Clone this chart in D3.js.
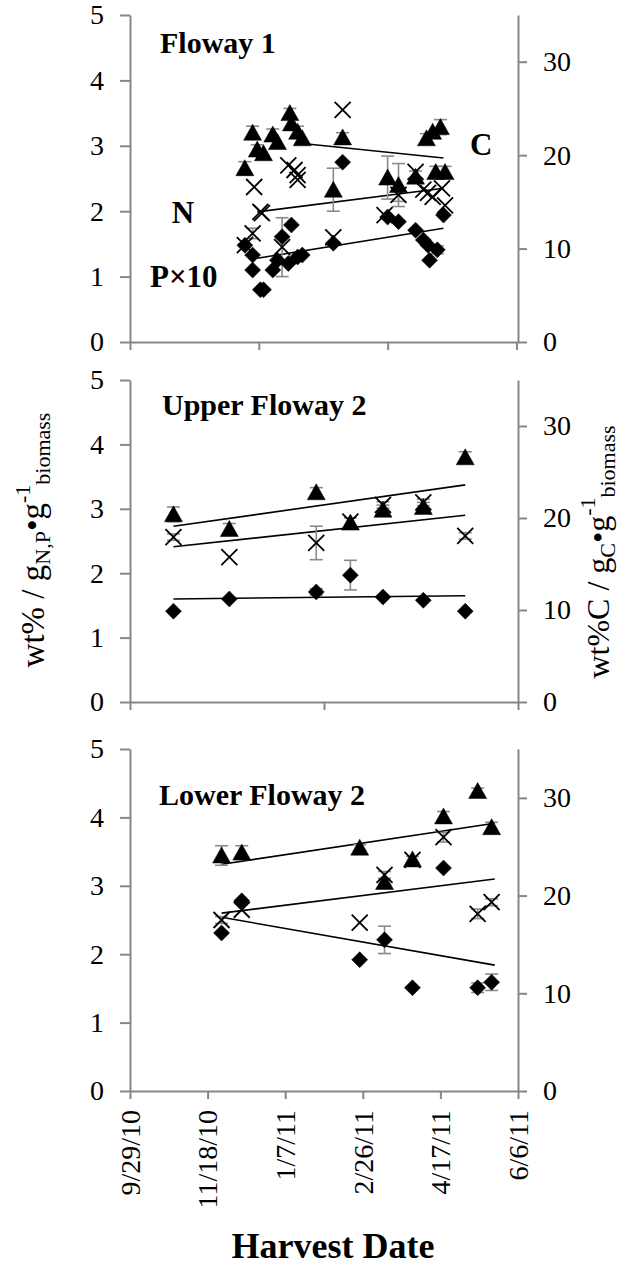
<!DOCTYPE html>
<html>
<head>
<meta charset="utf-8">
<script src="https://cdn.jsdelivr.net/npm/d3@7"></script>
<style>
  body { margin: 0; background: #fff; }
  svg text { font-family: "Liberation Serif", "Times New Roman", serif; fill: #000; }
</style>
</head>
<body>
<div id="chart"></div>
<script>
// three stacked panels, N and P x10 on left axis, C on right axis
const svgWidth = 625;
const svgHeight = 1266;
const xLeft = 130, xRight = 518;
const parse = d3.timeParse("%Y-%m-%d");

// tick values / labels
const dateTicks = ["2010-09-29", "2010-11-18", "2011-01-07", "2011-02-26", "2011-04-17", "2011-06-06"];
const f1Ticks = ["2010-09-29", "2010-12-21", "2011-03-14", "2011-06-05"];
const f2Ticks = ["2010-09-29", "2011-02-01", "2011-06-06"];
const leftTicks = [0, 1, 2, 3, 4, 5];
const rightTicks = [0, 10, 20, 30];

// ---- Floway 1 ----
const f1CDates = ["2010-12-12", "2010-12-17", "2010-12-20", "2010-12-24", "2010-12-30", "2011-01-02", "2011-01-10", "2011-01-11",
  "2011-01-15", "2011-01-18", "2011-02-07", "2011-02-13", "2011-03-14", "2011-03-21", "2011-04-01", "2011-04-08",
  "2011-04-12", "2011-04-17", "2011-04-14", "2011-04-20"];
const f1C = [18.6, 22.4, 20.6, 20.2, 22.2, 21.4, 24.5, 23.4, 22.5, 21.8, 16.3, 21.9, 17.6, 16.8, 17.7, 21.8, 22.5, 23.0, 18.2, 18.2];
const f1CErr = [0.7, 0.7, 0.5, 0, 0.6, 0, 0.5, 0, 0.6, 0, 2.3, 0.5, 2.3, 2.3, 0.6, 0.5, 0, 0.8, 0.6, 0.6];

const f1NDates = ["2010-12-12", "2010-12-17", "2010-12-18", "2010-12-22", "2010-12-23", "2011-01-05", "2011-01-09", "2011-01-13",
  "2011-01-15", "2011-01-15", "2011-02-07", "2011-02-13", "2011-03-12", "2011-03-21", "2011-04-01", "2011-04-06",
  "2011-04-09", "2011-04-12", "2011-04-18", "2011-04-20"];
const f1N = [1.48, 1.66, 2.37, 1.99, 1.97, 1.45, 2.70, 2.63, 2.55, 2.48, 1.60, 3.55, 1.94, 2.25, 2.60, 2.33, 2.28, 2.22, 2.35, 2.09];
const f1NErr = [0, 0.08, 0, 0, 0, 0.45, 0, 0, 0, 0, 0, 0, 0, 0.1, 0, 0, 0, 0, 0, 0];

const f1PDates = ["2010-12-12", "2010-12-17", "2010-12-17", "2010-12-22", "2010-12-24", "2010-12-30", "2011-01-02", "2011-01-05",
  "2011-01-11", "2011-01-09", "2011-01-15", "2011-01-18", "2011-02-07", "2011-02-13", "2011-03-14", "2011-03-21",
  "2011-04-01", "2011-04-06", "2011-04-09", "2011-04-15", "2011-04-10", "2011-04-19"];
const f1P = [1.48, 1.33, 1.10, 0.80, 0.80, 1.10, 1.25, 1.61, 1.79, 1.20, 1.30, 1.33, 1.51, 2.75, 1.91, 1.84, 1.71, 1.56, 1.48, 1.41, 1.25, 1.94];
const f1PErr = [0, 0, 0, 0, 0, 0, 0, 0, 0, 0, 0, 0, 0, 0, 0, 0, 0, 0, 0, 0.06, 0, 0];

const f1CTrendDates = ["2011-01-15", "2011-04-19"];
const f1CTrend = [21.3, 19.7];
const f1NTrendDates = ["2010-12-20", "2011-04-19"];
const f1NTrend = [1.99, 2.35];
const f1PTrendDates = ["2010-12-20", "2011-04-19"];
const f1PTrend = [1.28, 1.74];

// ---- Upper Floway 2 ----
const f2Dates = ["2010-10-27", "2010-12-02", "2011-01-27", "2011-02-18", "2011-03-11", "2011-04-06", "2011-05-03"];
const f2C = [20.4, 18.8, 22.8, 19.5, 20.9, 21.2, 26.6];
const f2CErr = [0.8, 0.6, 0.5, 0.5, 0.5, 0.5, 0.6];
const f2N = [2.56, 2.25, 2.47, 2.80, 3.06, 3.10, 2.58];
const f2NErr = [0.05, 0, 0.26, 0, 0.05, 0.05, 0.05];
const f2P = [1.41, 1.60, 1.71, 1.97, 1.63, 1.58, 1.41];
const f2PErr = [0, 0, 0.05, 0.23, 0, 0, 0];
const f2TrendDates = ["2010-10-27", "2011-05-03"];
const f2CTrend = [19.1, 23.6];
const f2NTrend = [2.41, 2.90];
const f2PTrend = [1.60, 1.65];

// ---- Lower Floway 2 ----
const f3Dates = ["2010-11-27", "2010-12-10", "2011-02-24", "2011-03-12", "2011-03-30", "2011-04-19", "2011-05-11", "2011-05-20"];
const f3C = [24.1, 24.4, 24.9, 21.4, 23.7, 28.1, 30.7, 27.0];
const f3CErr = [1.0, 0.7, 0.3, 0.3, 0.3, 0.5, 0.3, 0.5];
const f3N = [2.50, 2.65, 2.46, 3.16, 3.38, 3.71, 2.59, 2.76];
const f3NErr = [0.05, 0, 0, 0.05, 0, 0.07, 0.07, 0.05];
const f3P = [2.31, 2.78, 1.92, 2.21, 1.51, 3.26, 1.51, 1.59];
const f3PErr = [0, 0, 0, 0.2, 0, 0, 0.07, 0.12];
const f3TrendDates = ["2010-11-27", "2011-05-22"];
const f3CTrend = [23.2, 27.4];
const f3NTrend = [2.60, 3.10];
const f3PTrend = [2.54, 1.84];

const panels = [
  { title: "Floway 1", top: 15, bottom: 342, titleX: 160, titleY: 53, ticks: f1Ticks, labels: false,
    series: [
      { shape: "tri", axis: "R", dates: f1CDates, vals: f1C, err: f1CErr, tDates: f1CTrendDates, trend: f1CTrend },
      { shape: "dia", axis: "L", dates: f1PDates, vals: f1P, err: f1PErr, tDates: f1PTrendDates, trend: f1PTrend },
      { shape: "x", axis: "L", dates: f1NDates, vals: f1N, err: f1NErr, tDates: f1NTrendDates, trend: f1NTrend }
    ] },
  { title: "Upper Floway 2", top: 380, bottom: 702, titleX: 162, titleY: 415, ticks: f2Ticks, labels: false,
    series: [
      { shape: "tri", axis: "R", dates: f2Dates, vals: f2C, err: f2CErr, tDates: f2TrendDates, trend: f2CTrend },
      { shape: "dia", axis: "L", dates: f2Dates, vals: f2P, err: f2PErr, tDates: f2TrendDates, trend: f2PTrend },
      { shape: "x", axis: "L", dates: f2Dates, vals: f2N, err: f2NErr, tDates: f2TrendDates, trend: f2NTrend }
    ] },
  { title: "Lower Floway 2", top: 749, bottom: 1091, titleX: 159, titleY: 805, ticks: dateTicks, labels: true,
    series: [
      { shape: "tri", axis: "R", dates: f3Dates, vals: f3C, err: f3CErr, tDates: f3TrendDates, trend: f3CTrend },
      { shape: "dia", axis: "L", dates: f3Dates, vals: f3P, err: f3PErr, tDates: f3TrendDates, trend: f3PTrend },
      { shape: "x", axis: "L", dates: f3Dates, vals: f3N, err: f3NErr, tDates: f3TrendDates, trend: f3NTrend }
    ] }
];

const shapes = {
  tri: "M0,-8.5L9,7.5L-9,7.5Z",
  dia: "M0,-8L8,0L0,8L-8,0Z",
  x: "M-8,-8L8,8M-8,8L8,-8"
};
const axisColor = "#878787";

const svg = d3.select("#chart").append("svg")
  .attr("width", svgWidth)
  .attr("height", svgHeight);

const x = d3.scaleTime()
  .domain([parse("2010-09-29"), parse("2011-06-06")])
  .range([xLeft, xRight]);

function styleAxis(g) {
  g.selectAll("path, line").attr("stroke", axisColor).attr("stroke-width", 2);
  g.selectAll("text").attr("font-size", 28).attr("font-family", "Liberation Serif");
}

panels.forEach(function (p) {
  const yL = d3.scaleLinear().domain([0, 5]).range([p.bottom, p.top]);
  const yR = d3.scaleLinear().domain([0, 35]).range([p.bottom, p.top]);

  // axes
  const gx = svg.append("g")
    .attr("transform", `translate(0,${p.bottom})`)
    .call(d3.axisBottom(x).tickValues(p.ticks.map(parse)).tickSize(8).tickSizeOuter(0)
      .tickFormat(p.labels ? d3.timeFormat("%-m/%-d/%y") : ""));
  styleAxis(gx);
  if (p.labels) {
    gx.selectAll("text")
      .attr("transform", "rotate(-90)")
      .attr("text-anchor", "end")
      .attr("x", -19)
      .attr("y", 0)
      .attr("dy", "0.33em");
  }

  const gl = svg.append("g")
    .attr("transform", `translate(${xLeft},0)`)
    .call(d3.axisLeft(yL).tickValues(leftTicks).tickFormat(d3.format("d"))
      .tickSize(10).tickSizeOuter(0).tickPadding(16));
  styleAxis(gl);

  const gr = svg.append("g")
    .attr("transform", `translate(${xRight},0)`)
    .call(d3.axisRight(yR).tickValues(rightTicks).tickFormat(d3.format("d"))
      .tickSize(9).tickSizeOuter(0).tickPadding(16));
  styleAxis(gr);

  // trend lines
  p.series.forEach(function (s) {
    const y = s.axis === "R" ? yR : yL;
    svg.append("line")
      .attr("x1", x(parse(s.tDates[0])))
      .attr("y1", y(s.trend[0]))
      .attr("x2", x(parse(s.tDates[1])))
      .attr("y2", y(s.trend[1]))
      .attr("stroke", "#000")
      .attr("stroke-width", 1.6);
  });

  // error bars (under the markers)
  p.series.forEach(function (s) {
    const y = s.axis === "R" ? yR : yL;
    const pts = s.dates.map((d, i) => ({ d: parse(d), v: s.vals[i], e: s.err[i] })).filter(d => d.e > 0);
    const eb = svg.append("g").selectAll("g")
      .data(pts)
      .enter()
      .append("g")
      .attr("stroke", "#8a8a8a")
      .attr("stroke-width", 1.6);
    eb.append("line")
      .attr("x1", d => x(d.d)).attr("x2", d => x(d.d))
      .attr("y1", d => y(d.v - d.e)).attr("y2", d => y(d.v + d.e));
    eb.append("line")
      .attr("x1", d => x(d.d) - 6.5).attr("x2", d => x(d.d) + 6.5)
      .attr("y1", d => y(d.v + d.e)).attr("y2", d => y(d.v + d.e));
    eb.append("line")
      .attr("x1", d => x(d.d) - 6.5).attr("x2", d => x(d.d) + 6.5)
      .attr("y1", d => y(d.v - d.e)).attr("y2", d => y(d.v - d.e));
  });

  // markers
  p.series.forEach(function (s) {
    const y = s.axis === "R" ? yR : yL;
    const pts = s.dates.map((d, i) => ({ d: parse(d), v: s.vals[i] }));
    svg.append("g").selectAll("path")
      .data(pts)
      .enter()
      .append("path")
      .attr("d", shapes[s.shape])
      .attr("transform", d => `translate(${x(d.d)},${y(d.v)})`)
      .attr("fill", s.shape === "x" ? "none" : "#000")
      .attr("stroke", "#000")
      .attr("stroke-width", s.shape === "x" ? 1.8 : 0.5);
  });

  svg.append("text")
    .text(p.title)
    .attr("x", p.titleX)
    .attr("y", p.titleY)
    .attr("font-size", 30)
    .attr("font-weight", "bold");
});

// series labels in first panel
svg.append("text").text("N").attr("x", 183).attr("y", 223)
  .attr("text-anchor", "middle").attr("font-size", 31).attr("font-weight", "bold");
svg.append("text").text("P×10").attr("x", 150).attr("y", 287)
  .attr("font-size", 31).attr("font-weight", "bold");
svg.append("text").text("C").attr("x", 470).attr("y", 155)
  .attr("font-size", 31).attr("font-weight", "bold");

// axis titles
const leftLabel = svg.append("text")
  .attr("transform", "translate(44,540) rotate(-90)")
  .attr("text-anchor", "middle")
  .attr("font-size", 33);
leftLabel.append("tspan").text("wt% / g");
leftLabel.append("tspan").text("N,P").attr("font-size", 22).attr("dy", 6);
leftLabel.append("tspan").text("•g").attr("dy", -6);
leftLabel.append("tspan").text("-1").attr("font-size", 22).attr("dy", -14);
leftLabel.append("tspan").text("biomass").attr("font-size", 22).attr("dy", 20);

const rightLabel = svg.append("text")
  .attr("transform", "translate(609,552) rotate(-90)")
  .attr("text-anchor", "middle")
  .attr("font-size", 32);
rightLabel.append("tspan").text("wt%C / g");
rightLabel.append("tspan").text("C").attr("font-size", 22).attr("dy", 6);
rightLabel.append("tspan").text("•g").attr("dy", -6);
rightLabel.append("tspan").text("-1").attr("font-size", 22).attr("dy", -14);
rightLabel.append("tspan").text("biomass").attr("font-size", 22).attr("dy", 20);

svg.append("text")
  .text("Harvest Date")
  .attr("x", 333)
  .attr("y", 1258)
  .attr("text-anchor", "middle")
  .attr("font-size", 36)
  .attr("font-weight", "bold");
</script>
</body>
</html>
